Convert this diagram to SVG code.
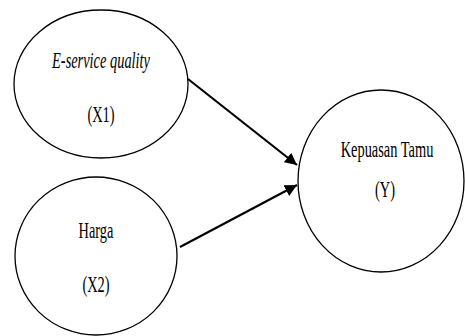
<svg xmlns="http://www.w3.org/2000/svg" width="465" height="336" viewBox="0 0 465 336">
<style>
.node{fill:#fff;stroke:#000;stroke-width:1.3}
.t{font-family:"Liberation Serif","Times New Roman",serif;font-size:24px;fill:#000;text-anchor:middle}
.it{font-style:italic}
.c{stroke:#000;stroke-width:2.2;fill:none}
</style>
<defs>
<marker id="ah" viewBox="0 0 10 10" refX="10" refY="5" markerWidth="5.5" markerHeight="5.5" orient="auto" markerUnits="strokeWidth">
<path d="M0,0 L10,5 L0,10 z" fill="#000"/>
</marker>
</defs>
<rect width="465" height="336" fill="#fff"/>
<g id="x1">
<ellipse class="node" cx="101" cy="84" rx="87" ry="74"/>
<text class="t it" transform="translate(101,68) scale(0.6,1)">E-service quality</text>
<text class="t" transform="translate(101,122) scale(0.6,1)">(X1)</text>
</g>
<g id="x2">
<ellipse class="node" cx="96" cy="256" rx="81" ry="79"/>
<text class="t" transform="translate(96,238) scale(0.6,1)">Harga</text>
<text class="t" transform="translate(96,292) scale(0.6,1)">(X2)</text>
</g>
<g id="y">
<ellipse class="node" cx="381" cy="181" rx="83" ry="91"/>
<text class="t" transform="translate(387,157) scale(0.6,1)">Kepuasan Tamu</text>
<text class="t" transform="translate(385,197) scale(0.6,1)">(Y)</text>
</g>
<g id="connectors">
<line class="c" x1="188" y1="79" x2="297" y2="165" marker-end="url(#ah)"/>
<line class="c" x1="180" y1="247" x2="297" y2="185" marker-end="url(#ah)"/>
</g>
</svg>
